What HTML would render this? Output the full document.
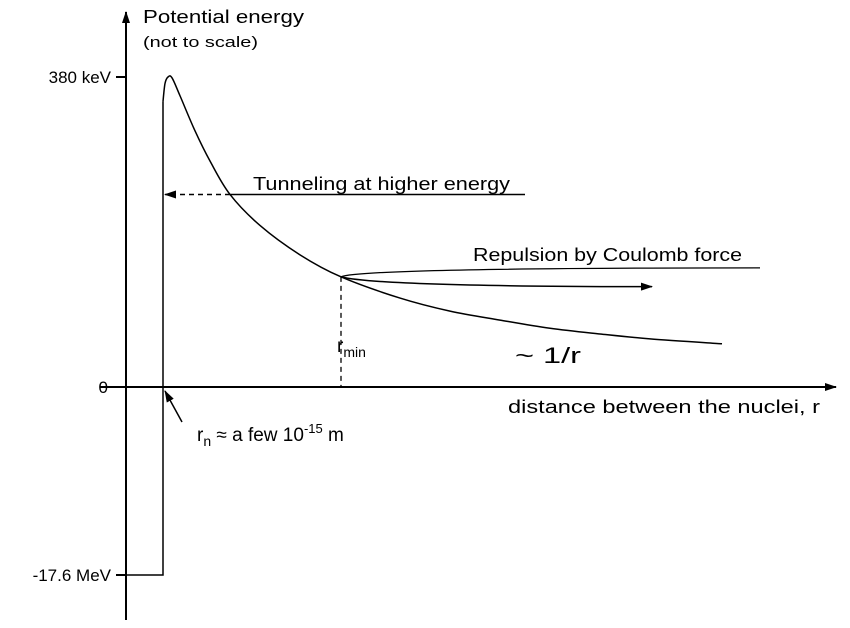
<!DOCTYPE html>
<html><head><meta charset="utf-8"><style>
body{margin:0;background:#fff;}
svg{display:block;font-family:"Liberation Sans",Arial,sans-serif;}
</style></head><body>
<svg id="chart" width="850" height="628" viewBox="0 0 850 628">
<defs>
<marker id="ah" markerWidth="12" markerHeight="8" refX="11" refY="4" orient="auto" markerUnits="userSpaceOnUse"><path d="M0,0 L12,4 L0,8 z" fill="#000"/></marker>
</defs>
<g id="axes"></g>
<g id="marks"></g>
<text x="143" y="23" font-size="18" textLength="161" lengthAdjust="spacingAndGlyphs">Potential energy</text>
<text x="143" y="47" font-size="15" textLength="115" lengthAdjust="spacingAndGlyphs">(not to scale)</text>
<text x="508" y="413" font-size="18" textLength="312" lengthAdjust="spacingAndGlyphs">distance between the nuclei, r</text>
<text x="253" y="190" font-size="18" textLength="257" lengthAdjust="spacingAndGlyphs">Tunneling at higher energy</text>
<text x="473" y="261" font-size="18" textLength="269" lengthAdjust="spacingAndGlyphs">Repulsion by Coulomb force</text>
<text x="515" y="363" font-size="22" textLength="66" lengthAdjust="spacingAndGlyphs">~ 1/r</text>
<text x="337" y="352" font-size="19">r<tspan font-size="14" dy="5">min</tspan></text>
<text x="197" y="441" font-size="19">r<tspan font-size="14" dy="5">n</tspan><tspan dy="-5"> ≈ a few 10</tspan><tspan font-size="13" dy="-8">-15</tspan><tspan dy="8"> m</tspan></text>
</svg>
<script>
const tickValues = [380, 0, -17600];
const tickLabels = ["380 keV", "0", "-17.6 MeV"];
const curveR = [37, 39, 42, 46, 54, 69, 84, 104, 134, 174, 215, 274, 324, 374, 424, 474, 524, 596];
const curveE = [350, 372, 380, 379, 357, 314, 277, 236, 198, 162, 135, 109, 93, 82, 72, 65, 59, 53];
const wellR = 37;
const wellDepth = -17600;
const rMin = 215;
const rMinE = 135;
const tunnelE = 236;
const repulsionEnd = 634;
const repulsionEndE = 146;
const arrowEnd = 526;
const arrowEndE = 123;
const tunnelLineEnd = 399;

const ox = 126, sx = 1;
function X(r){ return ox + r*sx; }
function Y(v){
  if (v >= 0) return 387 - v*(387-77)/380;
  return 387 + (v/wellDepth)*(575-387);
}
const NS = "http://www.w3.org/2000/svg";
function mk(tag, attrs, parent){
  const e = document.createElementNS(NS, tag);
  for (const k in attrs) e.setAttribute(k, attrs[k]);
  parent.appendChild(e);
  return e;
}
function smooth(pts){
  let d = 'M' + pts[0][0] + ',' + pts[0][1];
  for (let i = 0; i < pts.length - 1; i++){
    const p0 = pts[Math.max(0,i-1)], p1 = pts[i], p2 = pts[i+1], p3 = pts[Math.min(pts.length-1,i+2)];
    const c1 = [p1[0] + (p2[0]-p0[0])/6, p1[1] + (p2[1]-p0[1])/6];
    const c2 = [p2[0] - (p3[0]-p1[0])/6, p2[1] - (p3[1]-p1[1])/6];
    d += ` C${c1[0]},${c1[1]} ${c2[0]},${c2[1]} ${p2[0]},${p2[1]}`;
  }
  return d;
}
const axes = document.getElementById('axes');
const marks = document.getElementById('marks');
let a = mk('line', {x1:126, y1:620, x2:126, y2:12, stroke:'#000','stroke-width':2,'marker-end':'url(#ah)'}, axes);


a = mk('line', {x1:100, y1:387, x2:836, y2:387, stroke:'#000','stroke-width':2,'marker-end':'url(#ah)'}, axes);


tickValues.forEach((v,i)=>{
  const y = Y(v);
  const t = mk('line',{x1:116,y1:y,x2:126,y2:y,stroke:'#000','stroke-width':2},axes);
  
  
  const l = mk('text',{x:i===1?108:111,y:y+6,'font-size':17,'text-anchor':'end'},axes);
  l.textContent = tickLabels[i];
  
  
});
let w = mk('polyline',{points:`${X(0)},${Y(wellDepth)} ${X(wellR)},${Y(wellDepth)} ${X(wellR)},${Y(curveE[0])}`,fill:'none',stroke:'#000','stroke-width':1.5},marks);


const pts = curveR.map((r,i)=>[X(r), Y(curveE[i])]);
let c = mk('path',{d:smooth(pts),fill:'none',stroke:'#000','stroke-width':1.5,'stroke-linejoin':'round'},marks);


let tl = mk('line',{x1:X(tunnelLineEnd),y1:Y(tunnelE),x2:X(104),y2:Y(tunnelE),stroke:'#000','stroke-width':1.5},marks);


let td = mk('line',{x1:X(104),y1:Y(tunnelE),x2:X(wellR)+2,y2:Y(tunnelE),stroke:'#000','stroke-width':1.5,'stroke-dasharray':'5,4','marker-end':'url(#ah)'},marks);


const ry = Y(rMinE);
let rd = mk('line',{x1:X(rMin),y1:ry,x2:X(rMin),y2:387,stroke:'#000','stroke-width':1.3,'stroke-dasharray':'5,4'},marks);


let rp = mk('path',{d:`M${X(rMin)},${ry} Q${X(rMin)+20},${Y(repulsionEndE)} ${X(repulsionEnd)},${Y(repulsionEndE)}`,fill:'none',stroke:'#000','stroke-width':1.3},marks);


let ra = mk('path',{d:`M${X(rMin)},${ry} Q${X(rMin)+40},${Y(arrowEndE)} ${X(arrowEnd)},${Y(arrowEndE)}`,fill:'none',stroke:'#000','stroke-width':1.5,'marker-end':'url(#ah)'},marks);


let rn = mk('line',{x1:182,y1:422,x2:X(wellR)+2,y2:391,stroke:'#000','stroke-width':1.5,'marker-end':'url(#ah)'},marks);


</script>
</body></html>
